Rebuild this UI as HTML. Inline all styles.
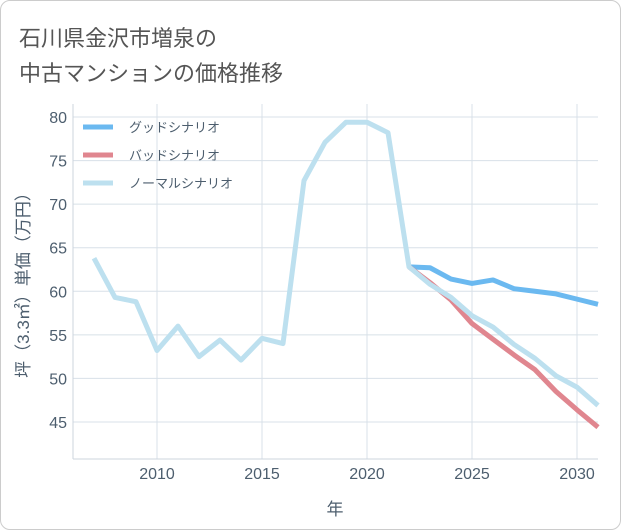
<!DOCTYPE html>
<html><head><meta charset="utf-8"><style>
body{margin:0;background:#fff;}
#card{position:absolute;left:0;top:0;width:619px;height:528px;border:1px solid #ccc;border-radius:10px;background:#fff;font-family:"Liberation Sans","Noto Sans CJK JP",sans-serif;}
.title{position:absolute;left:18px;font-size:22px;color:#555;}
</style></head><body>
<div id="card">
<div class="title" style="top:20px">石川県金沢市増泉の</div>
<div class="title" style="top:55px">中古マンションの価格推移</div>
<svg id="chart" width="621" height="530" style="position:absolute;left:0;top:0"></svg>
</div>
<script>
const years=[2007,2008,2009,2010,2011,2012,2013,2014,2015,2016,2017,2018,2019,2020,2021,2022,2023,2024,2025,2026,2027,2028,2029,2030,2031];
const normalVals=[63.8,59.3,58.8,53.2,56.0,52.5,54.4,52.1,54.6,54.0,72.7,77.1,79.4,79.4,78.2,62.8,60.8,59.3,57.2,55.9,53.9,52.3,50.3,49.0,46.9];
const futureYears=[2022,2023,2024,2025,2026,2027,2028,2029,2030,2031];
const goodVals=[62.8,62.7,61.4,60.9,61.3,60.3,60.0,59.7,59.1,58.5];
const badVals=[62.8,61.0,59.0,56.3,54.5,52.7,51.0,48.5,46.4,44.4];
const xTicks=[2010,2015,2020,2025,2030];
const yTicks=[45,50,55,60,65,70,75,80];
const legendLabels=["グッドシナリオ","バッドシナリオ","ノーマルシナリオ"];
const colors=["#6bb9f0","#e0868f","#bde0ef"];
const L=72,R=597,T=103,B=458;
const xs=y=>156+(y-2010)*21;
const ys=v=>116+(80-v)*305/35;
const svg=document.getElementById('chart');
const NS='http://www.w3.org/2000/svg';
function mk(tag,attrs,parent){const e=document.createElementNS(NS,tag);for(const k in attrs)e.setAttribute(k,attrs[k]);(parent||svg).appendChild(e);return e;}
xTicks.forEach(t=>{
 const g=mk('line',{x1:xs(t),x2:xs(t),y1:T,y2:B,stroke:'#d8e0e8'});
 
 
 const tx=mk('text',{x:xs(t),y:478,'text-anchor':'middle','font-size':16,fill:'#4d5e6e'});
 tx.textContent=t;
 
 
});
yTicks.forEach(t=>{
 const g=mk('line',{x1:L,x2:R,y1:ys(t),y2:ys(t),stroke:'#d8e0e8'});
 
 
 const tx=mk('text',{x:66,y:ys(t)+6,'text-anchor':'end','font-size':16,fill:'#4d5e6e'});
 tx.textContent=t;
 
 
});
const ax=mk('line',{x1:L,x2:L,y1:T,y2:B,stroke:'#cdd5de'});


const ax2=mk('line',{x1:L,x2:R,y1:B,y2:B,stroke:'#cdd5de'});


function series(xv,yv,c,name){
 const p=mk('polyline',{points:xv.map((x,i)=>xs(x)+','+ys(yv[i])).join(' '),fill:'none',stroke:c,'stroke-width':5,'stroke-linejoin':'round'});
 
 
}
series(futureYears,goodVals,colors[0],'good-scenario-line');
series(futureYears,badVals,colors[1],'bad-scenario-line');
series(years,normalVals,colors[2],'normal-scenario-line');
legendLabels.forEach((lab,i)=>{
 const y=126+i*28;
 const l=mk('line',{x1:82,x2:112,y1:y,y2:y,stroke:colors[i],'stroke-width':5});
 
 
 const t=mk('text',{x:128,y:y+5,'font-size':13,fill:'#4d5e6e'});
 t.textContent=lab;
 
 
});
const xt=mk('text',{x:334,y:514,'text-anchor':'middle','font-size':17,fill:'#4d5e6e'});
xt.textContent='年';


const yt=mk('text',{x:0,y:0,'text-anchor':'middle','font-size':17,fill:'#4d5e6e',transform:'translate(28,280) rotate(-90)'});
yt.textContent='坪（3.3㎡）単価（万円）';


</script>
</body></html>
